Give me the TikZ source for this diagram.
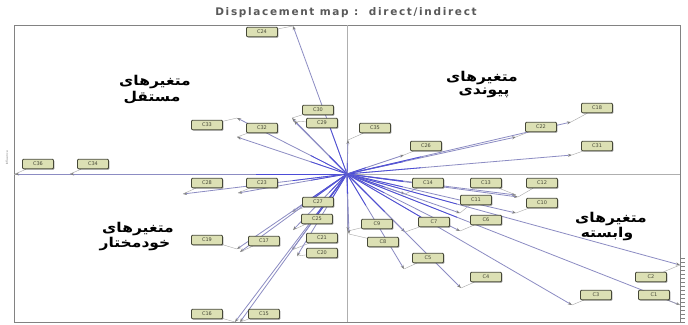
\documentclass[tikz,border=0pt]{standalone}
\usepackage{fontspec}
\usetikzlibrary{arrows.meta,calc,shadows}
\TeXXeTstate=1
\newfontfamily\fa[Script=Arabic]{DejaVu Sans}
\newfontfamily\dvs{DejaVu Sans}
\newfontfamily\dvstitle[LetterSpace=16]{DejaVu Sans}
\definecolor{frameC}{RGB}{130,130,130}
\definecolor{axisC}{RGB}{175,175,175}
\definecolor{lineB}{RGB}{60,60,220}
\definecolor{lineG}{RGB}{140,140,195}
\definecolor{boxF}{RGB}{220,224,180}
\definecolor{boxD}{RGB}{70,72,55}
\pgfdeclarelayer{bg}
\pgfsetlayers{bg,main}
\begin{document}
\begin{tikzpicture}[x=1pt,y=-1pt,
  lbl/.style={draw=boxD, fill=boxF, rounded corners=1pt, line width=0.8pt,
    minimum width=31pt, minimum height=9.5pt, inner sep=0pt,
    font=\dvs\fontsize{5}{5}\selectfont, text=boxD,
    drop shadow={shadow xshift=0.9pt, shadow yshift=-0.9pt, fill=black!70, opacity=0.6}},
  ray/.style={draw=lineG, line width=0.8pt, -{Stealth[length=4pt,width=3pt,color=gray]}},
  rayhot/.style={draw=lineB, line width=0.8pt, opacity=0.8},
  lead/.style={draw=gray!70, line width=0.4pt},
  quad/.style={font=\fa\bfseries\fontsize{13.5}{16}\selectfont, text=black, inner sep=0pt, xscale=1.15}
]
\useasboundingbox (0,0) rectangle (688,324);

% title
\node[font=\dvstitle\bfseries\fontsize{10.5}{12}\selectfont, text=black!65] (title) at (346,13) {Displacement map :\ \ direct/indirect};

% quadrant labels
\node[quad] (q1a) at (155,82) {\beginR متغیرهای\endR};
\node[quad] (q1b) at (152,98) {\beginR مستقل\endR};
\node[quad] (q2a) at (482,78) {\beginR متغیرهای\endR};
\node[quad] (q2b) at (484,93) {\beginR پیوندی\endR};
\node[quad] (q3a) at (138,229) {\beginR متغیرهای\endR};
\node[quad] (q3b) at (135,244) {\beginR خودمختار\endR};
\node[quad] (q4a) at (611,219) {\beginR متغیرهای\endR};
\node[quad] (q4b) at (607,234) {\beginR وابسته\endR};

% axis tiny label
\node[font=\dvs\fontsize{3}{3}\selectfont, text=gray, rotate=90] (infl) at (7,158) {Influence};

% center and line ends
\coordinate (c) at (347,174);
\foreach \i/\x/\y in {1/293/26, 2/292/118, 3/294/121, 4/237/118, 5/237/137, 6/348/140,
  7/404/155, 8/516/137, 9/571/122, 10/572/155, 11/15/174, 12/70/174, 13/183/194,
  14/238/193, 15/292/212, 16/293/230, 17/292/250, 18/297/256, 19/237/249, 20/240/252,
  21/235/322, 22/240/322, 23/405/194, 24/516/195, 25/518/197, 26/460/213, 27/516/213,
  28/348/231, 29/349/234, 30/405/232, 31/460/231, 32/404/269, 33/461/288, 34/572/305,
  35/680/265, 36/680/305}
  {\coordinate (e\i) at (\x,\y);}

% label boxes
\foreach \i/\x/\y/\t in {1/262/32/C24, 2/318/110/C30, 3/322/123/C29, 4/207/125/C33,
  5/262/128/C32, 6/375/128/C35, 7/426/146/C26, 8/541/127/C22, 9/597/108/C18,
  10/597/146/C31, 11/38/164/C36, 12/93/164/C34, 13/207/183/C28, 14/262/183/C23,
  15/318/202/C27, 16/317/219/C25, 17/322/238/C21, 18/322/253/C20, 19/207/240/C19,
  20/264/241/C17, 21/207/314/C16, 22/264/314/C15, 23/428/183/C14, 24/486/183/C13,
  25/542/183/C12, 26/476/200/C11, 27/542/203/C10, 28/377/224/C9, 29/383/242/C8,
  30/434/222/C7, 31/486/220/C6, 32/428/258/C5, 33/486/277/C4, 34/596/295/C3,
  35/651/277/C2, 36/654/295/C1}
  {\node[lbl] (b\i) at (\x,\y) {\t};}

\begin{pgfonlayer}{bg}
  \fill[white] (0,0) rectangle (688,324);
  % frame and axes
  \draw[frameC, line width=1pt] (14,25) rectangle (680,322);
  \draw[axisC, line width=0.6pt] (347,25) -- (347,322);
  \draw[axisC, line width=0.6pt] (14,174) -- (680,174);
  \foreach \y in {258,262,...,322} \draw[frameC, line width=0.4pt] (680,\y) -- (685,\y);
  % rays
  \foreach \i in {1,...,36} {
    \draw[ray] (c) -- (e\i);
    \draw[rayhot] (c) -- ($(c)!0.33!(e\i)$);
    \draw[lead] (e\i) -- (b\i);
  }
\end{pgfonlayer}
\end{tikzpicture}
\end{document}
